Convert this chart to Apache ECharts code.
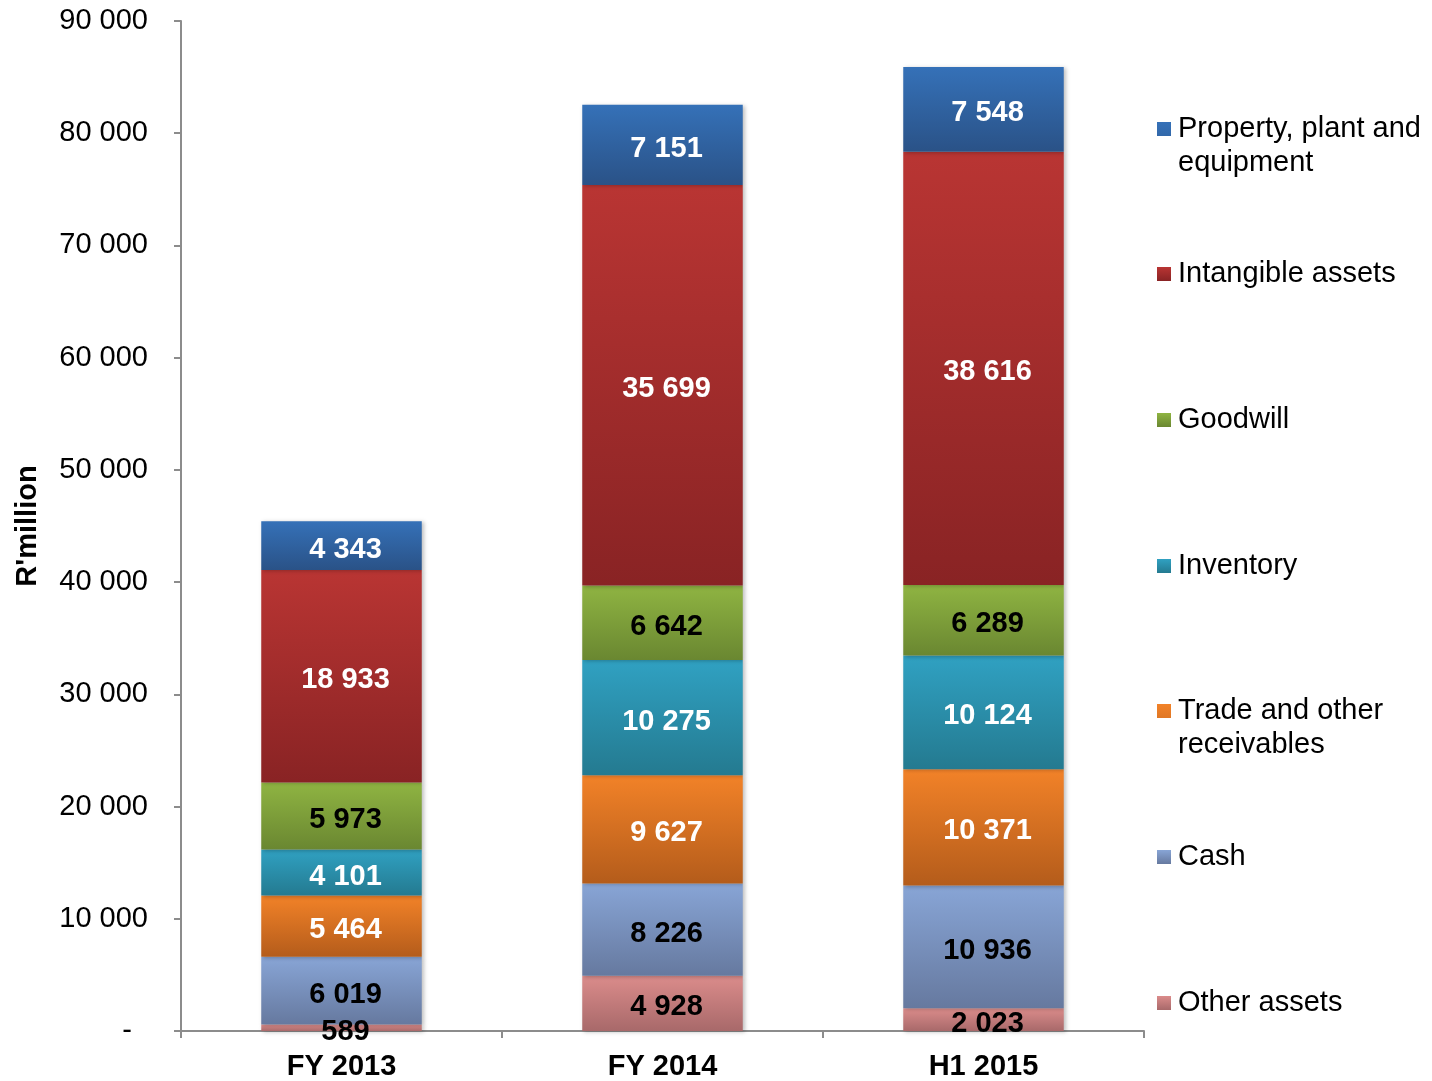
<!DOCTYPE html>
<html>
<head>
<meta charset="utf-8">
<title>Total assets (R'million)</title>
<script src="https://cdn.jsdelivr.net/npm/echarts@6/dist/echarts.min.js"></script>
<style>
  html, body { margin: 0; padding: 0; background: #fff; }
  #chart { width: 1432px; height: 1081px; }
</style>
</head>
<body>
<div id="chart"></div>
<script>
// Periods on the category axis
const periods = ['FY 2013', 'FY 2014', 'H1 2015'];

// Asset components, R'million (bottom of the stack first)
const otherAssets = [589, 4928, 2023];
const cash = [6019, 8226, 10936];
const tradeReceivables = [5464, 9627, 10371];
const inventory = [4101, 10275, 10124];
const goodwill = [5973, 6642, 6289];
const intangibleAssets = [18933, 35699, 38616];
const ppe = [4343, 7151, 7548];

// Value axis ticks
const yTicks = [0, 10000, 20000, 30000, 40000, 50000, 60000, 70000, 80000, 90000];

const FONT = '"Liberation Sans", Arial, sans-serif';

// Space as thousands separator; zero is shown as an accounting dash
function fmt(v) {
  if (v === 0) return '-\u00a0\u00a0';
  return String(v).replace(/\B(?=(\d{3})+(?!\d))/g, ' ');
}

function grad(top, bottom) {
  return {
    type: 'linear', x: 0, y: 0, x2: 0, y2: 1,
    colorStops: [{ offset: 0, color: top }, { offset: 1, color: bottom }]
  };
}

// name, legend text, data, gradient top/bottom, label colour, legend first-line centre
const seriesDefs = [
  { name: 'Other assets', text: 'Other assets', data: otherAssets, c: ['#DB8C8B', '#A8696A'], lc: '#000', y: 1001, two: false },
  { name: 'Cash', text: 'Cash', data: cash, c: ['#88A5D6', '#66799F'], lc: '#000', y: 855, two: false },
  { name: 'Trade and other receivables', text: 'Trade and other\nreceivables', data: tradeReceivables, c: ['#F28228', '#B45C1B'], lc: '#fff', y: 709, two: true },
  { name: 'Inventory', text: 'Inventory', data: inventory, c: ['#30A1C2', '#247A90'], lc: '#fff', y: 564, two: false },
  { name: 'Goodwill', text: 'Goodwill', data: goodwill, c: ['#8FB442', '#6A8731'], lc: '#000', y: 418, two: false },
  { name: 'Intangible assets', text: 'Intangible assets', data: intangibleAssets, c: ['#B93533', '#892324'], lc: '#fff', y: 272, two: false },
  { name: 'Property, plant and equipment', text: 'Property, plant and\nequipment', data: ppe, c: ['#3571B8', '#2A5287'], lc: '#fff', y: 127, two: true }
];

const series = seriesDefs.map(d => ({
  name: d.name,
  type: 'bar',
  stack: 'assets',
  barWidth: '50%',
  data: d.data,
  itemStyle: {
    color: grad(d.c[0], d.c[1]),
    shadowColor: 'rgba(0,0,0,0.25)',
    shadowBlur: 4,
    shadowOffsetX: 2,
    shadowOffsetY: 1
  },
  label: {
    show: true,
    position: 'inside',
    offset: [4, 4],
    formatter: p => fmt(p.value),
    color: d.lc,
    fontFamily: FONT,
    fontWeight: 'bold',
    fontSize: 29
  },
  emphasis: { disabled: true }
}));

// One legend block per item so the spacing can follow the right-hand column
const LINE_H = 34;
const legends = seriesDefs.map(d => ({
  data: [d.name],
  orient: 'vertical',
  left: 1157,
  top: d.y - LINE_H / 2 + 2,
  padding: 0,
  itemWidth: 14,
  itemHeight: d.two ? 48 : 14,
  itemGap: 6,
  icon: d.two ? 'path://M0,0H10V10H0Z M0,34.29L0.01,34.29' : 'rect',
  formatter: () => d.text,
  selectedMode: false,
  textStyle: {
    fontFamily: FONT,
    fontSize: 29,
    color: '#000',
    lineHeight: LINE_H,
    padding: [0, 0, 0, 2]
  }
}));

const axisGrey = '#8C8C8C';

const option = {
  backgroundColor: '#fff',
  animation: false,
  legend: legends,
  grid: { left: 181, right: 288, top: 21, bottom: 50, containLabel: false, outerBoundsMode: 'none' },
  xAxis: {
    type: 'category',
    data: periods,
    axisLine: { lineStyle: { color: axisGrey, width: 2 } },
    axisTick: { show: true, alignWithLabel: false, length: 7, lineStyle: { color: axisGrey, width: 2 } },
    axisLabel: {
      margin: 21,
      color: '#000',
      fontFamily: FONT,
      fontWeight: 'bold',
      fontSize: 29
    }
  },
  yAxis: {
    type: 'value',
    min: yTicks[0],
    max: yTicks[yTicks.length - 1],
    interval: yTicks[1] - yTicks[0],
    name: "R'million",
    nameLocation: 'middle',
    nameGap: 139,
    nameRotate: 90,
    nameTextStyle: { color: '#000', fontFamily: FONT, fontWeight: 'bold', fontSize: 29 },
    splitLine: { show: false },
    axisLine: { show: true, lineStyle: { color: axisGrey, width: 2 } },
    axisTick: { show: true, length: 7, lineStyle: { color: axisGrey, width: 2 } },
    axisLabel: {
      margin: 33,
      color: '#000',
      fontFamily: FONT,
      fontSize: 29,
      formatter: v => fmt(v)
    }
  },
  series: series
};

const chart = echarts.init(document.getElementById('chart'), null, { renderer: 'canvas' });
chart.setOption(option);
</script>
</body>
</html>
